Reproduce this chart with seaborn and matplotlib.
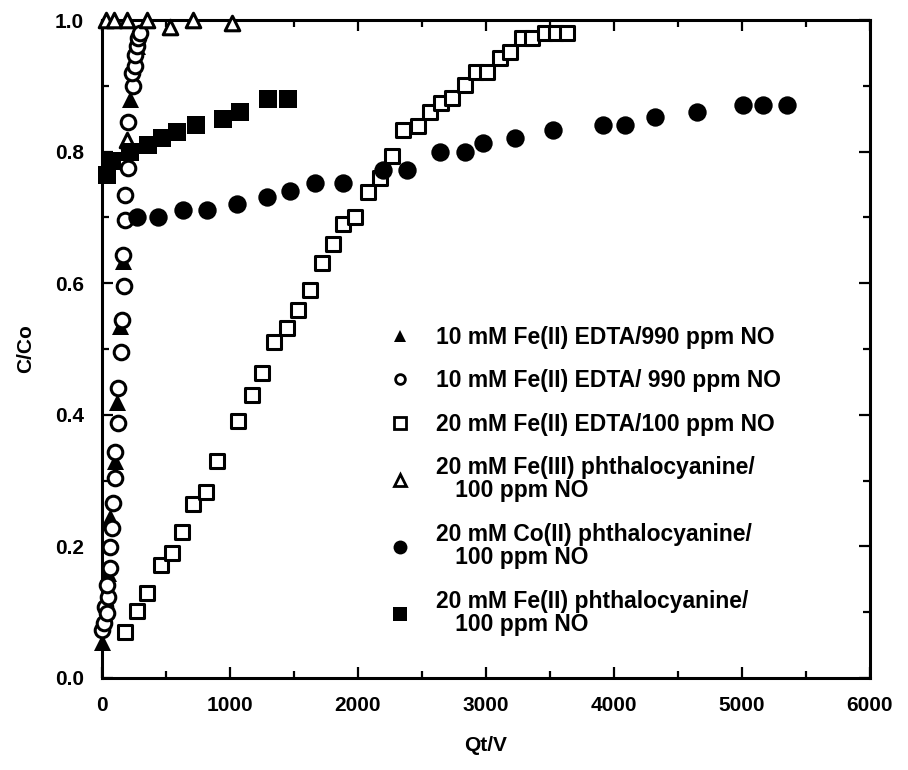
import matplotlib
matplotlib.use("Agg")
import matplotlib.pyplot as plt
from matplotlib.lines import Line2D
from matplotlib.ticker import MultipleLocator, FormatStrFormatter
import seaborn as sns
import pandas as pd

# 10 mM Fe(II) EDTA / 990 ppm NO (filled triangles)
fe_edta_990_a_x = [0, 47, 62, 102, 117, 141, 164, 219, 273, 352]
fe_edta_990_a_y = [0.055, 0.16, 0.245, 0.33, 0.42, 0.535, 0.633, 0.88, 0.96, 1.0]

# 10 mM Fe(II) EDTA / 990 ppm NO, repeat run (open circles)
fe_edta_990_b_x = [0, 16, 23, 39, 47, 39, 62, 62, 78, 86, 102, 102, 125, 125,
                   148, 156, 172, 164, 180, 180, 203, 203, 242, 234, 258, 258,
                   273, 281, 297]
fe_edta_990_b_y = [0.073, 0.084, 0.108, 0.099, 0.123, 0.141, 0.167, 0.199, 0.228,
                   0.266, 0.304, 0.343, 0.388, 0.441, 0.495, 0.544, 0.596, 0.643,
                   0.696, 0.734, 0.775, 0.845, 0.90, 0.92, 0.93, 0.947, 0.96,
                   0.973, 0.98]

# 20 mM Fe(II) EDTA / 100 ppm NO (open squares)
fe_edta_100_x = [180, 273, 352, 461, 547, 625, 711, 813, 898, 1063, 1172, 1250,
                 1344, 1445, 1531, 1625, 1719, 1805, 1883, 1977, 2078, 2172, 2266,
                 2352, 2469, 2563, 2648, 2734, 2836, 2922, 3008, 3109, 3188, 3281,
                 3359, 3461, 3547, 3633]
fe_edta_100_y = [0.070, 0.102, 0.129, 0.172, 0.19, 0.222, 0.264, 0.283, 0.33, 0.39,
                 0.43, 0.464, 0.511, 0.532, 0.559, 0.59, 0.63, 0.66, 0.69, 0.70,
                 0.739, 0.76, 0.793, 0.833, 0.839, 0.86, 0.874, 0.881, 0.901, 0.921,
                 0.921, 0.942, 0.951, 0.973, 0.973, 0.98, 0.98, 0.98]

# 20 mM Fe(III) phthalocyanine / 100 ppm NO (open triangles)
fe3_pc_x = [31, 94, 195, 352, 531, 711, 1016, 195]
fe3_pc_y = [1.0, 1.0, 1.0, 1.0, 0.99, 1.0, 0.995, 0.818]

# 20 mM Co(II) phthalocyanine / 100 ppm NO (filled circles)
co_pc_x = [273, 438, 633, 820, 1055, 1289, 1469, 1664, 1883, 2195, 2383, 2641,
           2836, 2977, 3227, 3523, 3914, 4086, 4320, 4648, 5008, 5164, 5352]
co_pc_y = [0.70, 0.70, 0.711, 0.711, 0.72, 0.731, 0.74, 0.752, 0.752, 0.772, 0.772,
           0.80, 0.80, 0.813, 0.821, 0.833, 0.84, 0.84, 0.853, 0.86, 0.871, 0.871,
           0.871]

# 20 mM Fe(II) phthalocyanine / 100 ppm NO (filled squares)
fe2_pc_x = [39, 78, 219, 359, 469, 586, 734, 945, 1078, 1297, 1453]
fe2_pc_y = [0.765, 0.785, 0.80, 0.81, 0.82, 0.83, 0.84, 0.85, 0.86, 0.88, 0.88]

labels = [
    "10 mM Fe(II) EDTA/990 ppm NO",
    "10 mM Fe(II) EDTA/ 990 ppm NO",
    "20 mM Fe(II) EDTA/100 ppm NO",
    "20 mM Fe(III) phthalocyanine/\n   100 ppm NO",
    "20 mM Co(II) phthalocyanine/\n   100 ppm NO",
    "20 mM Fe(II) phthalocyanine/\n   100 ppm NO",
]

sns.set_theme(style="white")
plt.rcParams["font.family"] = ["Liberation Sans", "DejaVu Sans"]
plt.rcParams["font.weight"] = "bold"
plt.rcParams["text.color"] = "black"
plt.rcParams["axes.labelcolor"] = "black"
plt.rcParams["xtick.color"] = "black"
plt.rcParams["ytick.color"] = "black"

fig = plt.figure(figsize=(9.08, 7.70), dpi=100)
ax = fig.add_axes([0.1123, 0.1195, 0.8457, 0.8545])

series = [
    (fe_edta_990_a_x, fe_edta_990_a_y, "^", True, 150, 9),
    (fe_edta_990_b_x, fe_edta_990_b_y, "o", False, 110, 7),
    (fe_edta_100_x, fe_edta_100_y, "s", False, 105, 8),
    (fe3_pc_x, fe3_pc_y, "^", False, 110, 8),
    (co_pc_x, co_pc_y, "o", True, 175, 10),
    (fe2_pc_x, fe2_pc_y, "s", True, 150, 9.5),
]

handles = []
for (xs, ys, mk, filled, size, lsize), lab in zip(series, labels):
    df = pd.DataFrame({"Qt/V": xs, "C/Co": ys})
    sns.scatterplot(data=df, x="Qt/V", y="C/Co", marker=mk, s=size,
                    color="black" if filled else "white",
                    edgecolor="black", linewidth=0 if filled else 2.2,
                    ax=ax, zorder=3, clip_on=False, legend=False)
    handles.append(Line2D([], [], linestyle="none", marker=mk, markersize=lsize,
                          markerfacecolor="black" if filled else "white",
                          markeredgecolor="black", markeredgewidth=0 if filled else 2.0))

ax.set_xlim(0, 6000)
ax.set_ylim(0, 1.0)
ax.xaxis.set_major_locator(MultipleLocator(1000))
ax.xaxis.set_minor_locator(MultipleLocator(500))
ax.yaxis.set_major_locator(MultipleLocator(0.2))
ax.yaxis.set_minor_locator(MultipleLocator(0.1))
ax.yaxis.set_major_formatter(FormatStrFormatter("%.1f"))

ax.tick_params(which="both", direction="in", top=True, right=True,
               bottom=True, left=True, colors="black", labelcolor="black", width=1.6)
ax.tick_params(which="major", length=8, labelsize=15, pad=13)
ax.tick_params(which="minor", length=5)

for sp in ax.spines.values():
    sp.set_linewidth(2.2)
    sp.set_color("black")

ax.set_xlabel("Qt/V", fontsize=15, fontweight="bold", labelpad=15, color="black")
ax.set_ylabel("C/Co", fontsize=15, fontweight="bold", labelpad=14, color="black")

leg = ax.legend(handles, labels, loc="upper left", bbox_to_anchor=(0.343, 0.567),
                frameon=False, prop={"size": 16.5, "weight": "bold"},
                handletextpad=1.0, labelspacing=0.9, handlelength=1.2)
for t in leg.get_texts():
    t.set_color("black")
    t.set_linespacing(1.0)

fig.savefig("out.png", dpi=100, facecolor="white")
